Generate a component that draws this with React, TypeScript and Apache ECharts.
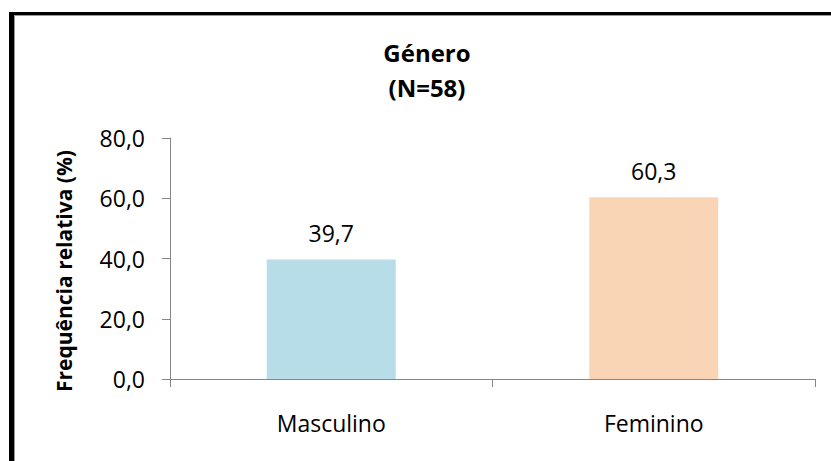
import React, { useEffect, useRef } from "react";
import * as echarts from "echarts";

const categories = ["Masculino", "Feminino"];
const values = [39.7, 60.3];
const barColors = ["#B7DDE8", "#FAD5B5"];
const titleText = "Género\n(N=58)";
const yAxisName = "Frequência relativa (%)";
const yMin = 0;
const yMax = 80;
const yInterval = 20;

const fmt = (v: number) => v.toFixed(1).replace(".", ",");

export default function App() {
  const ref = useRef<HTMLDivElement>(null);
  useEffect(() => {
    if (!ref.current) return;
    const chart = echarts.init(ref.current, null, { renderer: "svg" });
    const font = "'Open Sans', sans-serif";
    chart.setOption({
      animation: false,
      backgroundColor: "#ffffff",
      textStyle: { fontFamily: font },
      title: {
        text: titleText,
        left: 427,
        top: 35,
        padding: 0,
        textAlign: "center",
        textStyle: {
          fontFamily: font,
          fontSize: 24,
          fontWeight: "bold",
          color: "#000",
          lineHeight: 35,
        },
      },
      grid: { left: 170, right: 16, top: 138, bottom: 82 },
      xAxis: {
        type: "category",
        data: categories,
        axisLine: { show: true, lineStyle: { color: "#868686", width: 1 } },
        axisTick: { show: true, length: 8, alignWithLabel: false, lineStyle: { color: "#868686" } },
        axisLabel: { margin: 32, fontSize: 23, color: "#000", fontFamily: font },
        splitLine: { show: false },
      },
      yAxis: {
        type: "value",
        min: yMin,
        max: yMax,
        interval: yInterval,
        axisLine: { show: true, lineStyle: { color: "#868686", width: 1 } },
        axisTick: { show: true, length: 8, lineStyle: { color: "#868686" } },
        axisLabel: { margin: 25, fontSize: 23, color: "#000", fontFamily: font, formatter: (v: number) => fmt(v) },
        splitLine: { show: false },
      },
      series: [
        {
          type: "bar",
          data: values.map((v, i) => ({ value: v, itemStyle: { color: barColors[i] } })),
          barCategoryGap: "60%",
          label: {
            show: true,
            position: "top",
            distance: 15,
            fontSize: 23,
            color: "#000",
            fontFamily: font,
            formatter: (p: any) => fmt(p.value),
          },
        },
      ],
      graphic: [
        {
          type: "text",
          x: 64,
          y: 271,
          rotation: Math.PI / 2,
          style: {
            text: yAxisName,
            fontSize: 21,
            fontWeight: "bold",
            fontFamily: font,
            fill: "#000",
            textAlign: "center",
            textVerticalAlign: "middle",
          },
        },
        { type: "rect", shape: { x: 9, y: 12, width: 822, height: 3 }, style: { fill: "#000" } },
        { type: "rect", shape: { x: 9, y: 12, width: 5, height: 449 }, style: { fill: "#000" } },
        { type: "rect", shape: { x: 14, y: 15, width: 817, height: 1 }, style: { fill: "#9a9a9a" } },
        { type: "rect", shape: { x: 14, y: 15, width: 1, height: 446 }, style: { fill: "#9a9a9a" } },
      ],
    });
    return () => chart.dispose();
  }, []);
  return (
    <div
      ref={ref}
      style={{ position: "absolute", left: 0, top: 0, width: 831, height: 461 }}
    />
  );
}
